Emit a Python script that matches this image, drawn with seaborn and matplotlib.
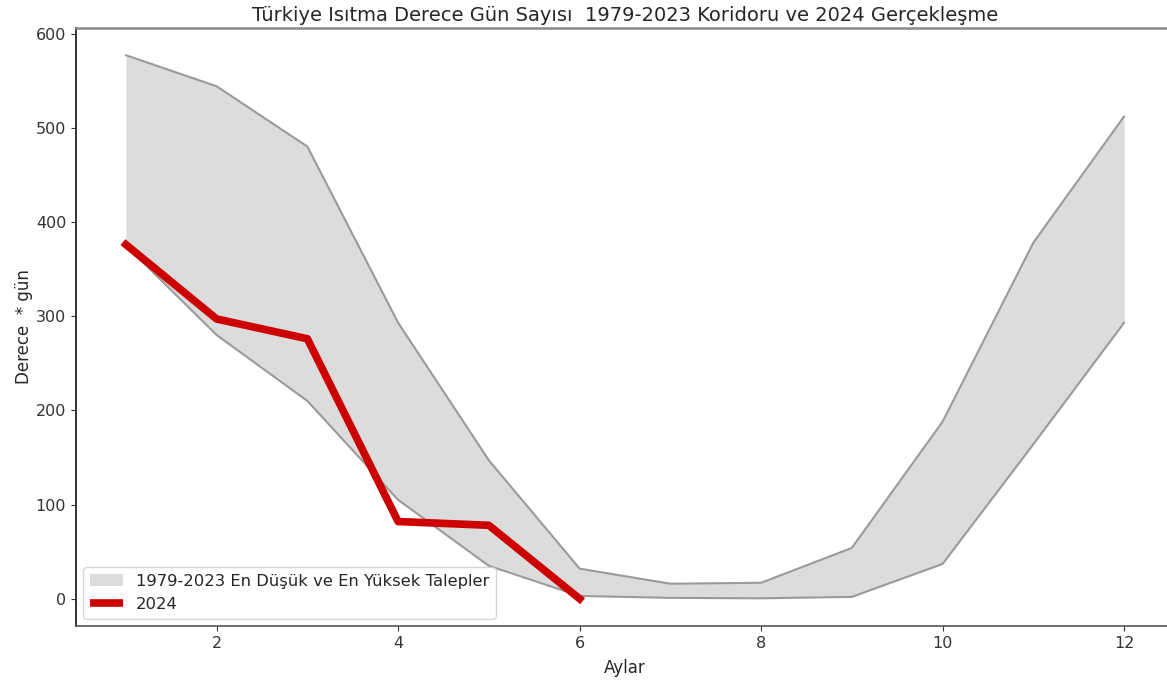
import matplotlib
matplotlib.use("Agg")
import matplotlib.pyplot as plt
import seaborn as sns
import pandas as pd

months = [1, 2, 3, 4, 5, 6, 7, 8, 9, 10, 11, 12]
max_vals = [577, 544, 480, 293, 147, 32, 16, 17, 54, 188, 378, 512]
min_vals = [375, 280, 210, 105, 35, 3, 1, 0.5, 2, 37, 164, 293]
months_2024 = [1, 2, 3, 4, 5, 6]
vals_2024 = [376, 297, 276, 82, 78, 0]

title = "Türkiye Isıtma Derece Gün Sayısı  1979-2023 Koridoru ve 2024 Gerçekleşme"
band_label = "1979-2023 En Düşük ve En Yüksek Talepler"

sns.set_style("ticks")
plt.rcParams['font.family'] = ['DejaVu Sans']

fig = plt.figure(figsize=(11.67, 6.83), dpi=100)
ax = fig.add_axes([0.0651, 0.0835, 0.9409, 0.8755])

df = pd.DataFrame({"Ay": months, "max": max_vals, "min": min_vals})
df24 = pd.DataFrame({"Ay": months_2024, "val": vals_2024})

ax.fill_between(df["Ay"], df["min"], df["max"], color="#dcdcdc", linewidth=0,
                label=band_label)
sns.lineplot(data=df, x="Ay", y="max", ax=ax, color="#9a9a9a", linewidth=1.5, legend=False)
sns.lineplot(data=df, x="Ay", y="min", ax=ax, color="#9a9a9a", linewidth=1.5, legend=False)
sns.lineplot(data=df24, x="Ay", y="val", ax=ax, color="#cc0000", linewidth=5.5, label="2024",
             solid_capstyle="projecting")

ax.set_xticks([2, 4, 6, 8, 10, 12])
ax.set_yticks([0, 100, 200, 300, 400, 500, 600])
ax.set_xlabel("Aylar", fontsize=12, labelpad=6)
ax.set_ylabel("Derece  * gün", fontsize=12, labelpad=2)
ax.set_title(title, fontsize=14, pad=5)
ax.tick_params(labelsize=11.5, colors="#333333")
ax.spines["left"].set_color("#111111")
ax.spines["left"].set_linewidth(1.2)
ax.spines["bottom"].set_color("#555555")
ax.spines["bottom"].set_linewidth(1.2)
ax.spines["top"].set_color("#888888")
ax.spines["top"].set_linewidth(1.8)

handles, labels = ax.get_legend_handles_labels()
leg = ax.legend(handles, labels, loc="lower left", fontsize=11.8, frameon=True,
                borderaxespad=0.45)
for h in leg.get_lines():
    h.set_solid_capstyle("butt")

fig.savefig("out.png", dpi=100)
